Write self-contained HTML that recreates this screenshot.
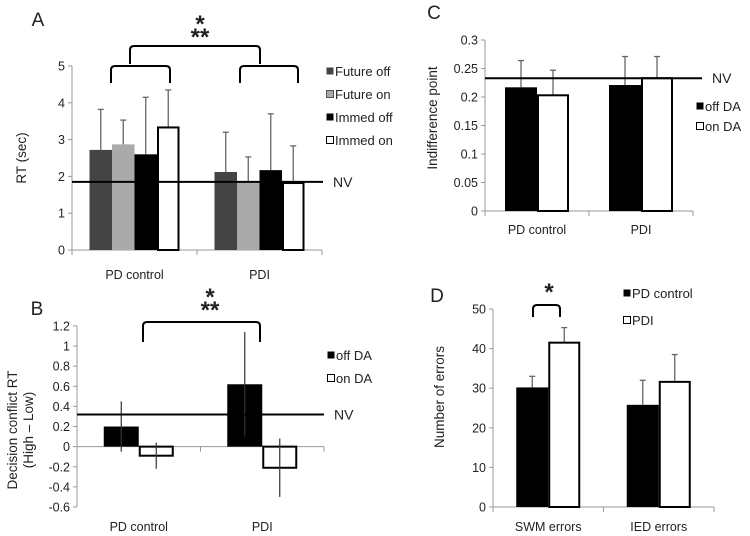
<!DOCTYPE html>
<html><head><meta charset="utf-8"><style>
body{margin:0;background:#fff}
svg{display:block;font-family:"Liberation Sans",Arial,sans-serif;}
text{fill:#222;font-size:12.5px}
</style></head><body>
<svg id="fig" width="750" height="536" viewBox="0 0 750 536"></svg>
<script>
// Panel A data
const aCategories=["PD control","PDI"];
const aSeries=["Future off","Future on","Immed off","Immed on"];
const aValues=[[2.72,2.12],[2.87,1.85],[2.6,2.17],[3.33,1.82]];
const aErrTop=[[3.82,3.2],[3.53,2.53],[4.15,3.7],[4.35,2.83]];
const aTicks=[0,1,2,3,4,5];
const aNV=1.85;
// Panel B data
const bCategories=["PD control","PDI"];
const bSeries=["off DA","on DA"];
const bValues=[[0.2,0.62],[-0.09,-0.21]];
const bErr=[[0.25,0.52],[0.13,0.29]];
const bTicks=[1.2,1,0.8,0.6,0.4,0.2,0,-0.2,-0.4,-0.6];
const bTickLabels=["1.2","1","0.8","0.6","0.4","0.2","0","-0.2","-0.4","-0.6"];
const bNV=0.32;
// Panel C data
const cCategories=["PD control","PDI"];
const cSeries=["off DA","on DA"];
const cValues=[[0.217,0.221],[0.203,0.233]];
const cErrTop=[[0.264,0.271],[0.247,0.271]];
const cTicks=[0,0.05,0.1,0.15,0.2,0.25,0.3];
const cNV=0.233;
// Panel D data
const dCategories=["SWM errors","IED errors"];
const dSeries=["PD control","PDI"];
const dValues=[[30.2,25.8],[41.5,31.6]];
const dErrTop=[[33,32],[45.3,38.5]];
const dTicks=[0,10,20,30,40,50];

const svg=document.getElementById('fig');
const NS='http://www.w3.org/2000/svg';
function el(tag,attrs,parent,txt){const e=document.createElementNS(NS,tag);for(const k in attrs)e.setAttribute(k,attrs[k]);if(txt!==undefined)e.textContent=txt;(parent||svg).appendChild(e);return e;}

function panel(cfg){
  const g=el('g',{});
  
  
  const y=v=>cfg.y0-(v-cfg.vmin)*cfg.ppu;
  const zeroY=y(Math.max(0,cfg.vmin));
  const ax=el('line',{x1:cfg.x0,y1:y(cfg.vmax),x2:cfg.x0,y2:y(cfg.vmin),stroke:'#999','stroke-width':1},g);
  
  
  cfg.ticks.forEach((t,i)=>{
    el('line',{x1:cfg.x0-4,y1:y(t),x2:cfg.x0,y2:y(t),stroke:'#999'},g);
    const tl=el('text',{x:cfg.x0-7,y:y(t)+4.5,'text-anchor':'end'},g,cfg.tickLabels?cfg.tickLabels[i]:String(t));
    
    
  });
  const xa=el('line',{x1:cfg.x0,y1:zeroY,x2:cfg.x1,y2:zeroY,stroke:'#999'},g);
  
  
  const nC=cfg.cats.length, cw=(cfg.x1-cfg.x0)/nC, nS=cfg.series.length;
  for(let c=0;c<=nC;c++){el('line',{x1:cfg.x0+c*cw,y1:zeroY,x2:cfg.x0+c*cw,y2:zeroY+5,stroke:'#999'},g);}
  const bw=cfg.bw;
  cfg.cats.forEach((cat,c)=>{
    const cx=cfg.x0+(c+0.5)*cw;
    const cl=el('text',{x:cx,y:cfg.catY,'text-anchor':'middle'},g,cat);
    
    
    const gs=cx-bw*nS/2;
    for(let s=0;s<nS;s++){
      const v=cfg.values[s][c];
      const bx=gs+s*bw, top=y(Math.max(v,0)), bot=y(Math.min(v,0));
      const fill=cfg.fills[s], white=fill==='#fff';
      const ex=bx+bw/2;
      if(cfg.errTop){
        const et=y(cfg.errTop[s][c]);
        el('line',{x1:ex,y1:top,x2:ex,y2:et,stroke:cfg.errCol[s],'stroke-width':1.3},g);
        el('line',{x1:ex-3,y1:et,x2:ex+3,y2:et,stroke:cfg.errCol[s],'stroke-width':1.3},g);
      }
      const r=el('rect',{x:bx+(white?1:0),y:top,width:bw-(white?2:0),height:Math.max(bot-top,0.5),fill:fill,stroke:white?'#000':'none','stroke-width':white?2:0},g);
      
      
      if(cfg.err){
        const e=cfg.err[s][c];
        el('line',{x1:ex,y1:y(v+e),x2:ex,y2:y(v-e),stroke:'#333','stroke-width':1.2},g);
      }
    }
  });
  if(cfg.nv!==undefined){
    const nl=el('line',{x1:cfg.x0,y1:y(cfg.nv),x2:cfg.nvX,y2:y(cfg.nv),stroke:'#000','stroke-width':2},g);
    
    
    const nt=el('text',{x:cfg.nvX+10,y:y(cfg.nv)+5,style:'font-size:14px'},g,'NV');
    
    
  }
  cfg.series.forEach((s,i)=>{
    const ly=cfg.legY+i*cfg.legDy;
    const fill=cfg.fills[i];
    el('rect',{x:cfg.legX+0.5,y:ly-8.5,width:7,height:7,fill:fill,stroke:fill==='#fff'?'#000':(fill==='#aaa'?'#555':'none'),'stroke-width':1},g);
    const lt=el('text',{x:cfg.legX+9,y:ly,style:'font-size:13px'},g,s);
    
    
  });
  const pl=el('text',{x:cfg.labX,y:cfg.labY,style:'font-size:19px','text-anchor':'middle'},g,cfg.label);
  
  
  cfg.ytitle.forEach((t,i)=>{
    const tx=cfg.ytX+i*16;
    const yt=el('text',{x:tx,y:cfg.ytY,transform:`rotate(-90 ${tx} ${cfg.ytY})`,'text-anchor':'middle',style:'font-size:13.5px'},g,t);
    
    
  });
  return g;
}
function bracket(x1,x2,yTop,yLeg,name){
  const p=el('path',{d:`M${x1},${yLeg} L${x1},${yTop+4} Q${x1},${yTop} ${x1+4},${yTop} L${x2-4},${yTop} Q${x2},${yTop} ${x2},${yTop+4} L${x2},${yLeg}`,fill:'none',stroke:'#000','stroke-width':2});
  
  
}
function star(x,yy,t,name){
  const s=el('text',{x:x,y:yy,'text-anchor':'middle',style:'font-size:24px;font-weight:bold'},svg,t);
  
  
}

panel({name:'panel-a',x0:72,x1:322,y0:250,vmin:0,vmax:5,ppu:36.8,ticks:aTicks,cats:aCategories,series:aSeries,values:aValues,errTop:aErrTop,
  bw:22.5,fills:['#444','#aaa','#000','#fff'],errCol:['#666','#666','#666','#666'],catY:279,nv:aNV,nvX:323,
  legX:326,legY:76,legDy:23,label:'A',labX:38,labY:26,ytitle:['RT (sec)'],ytX:26,ytY:158});
bracket(111,170,66,83,'bracket-pd-control');
bracket(240,298,66,83,'bracket-pdi');
bracket(130,260,46,64,'bracket-group-comparison');
star(200,32,'*','significance-star-a');
star(200,45,'**','significance-stars-a');

panel({name:'panel-b',x0:77,x1:324,y0:507,vmin:-0.6,vmax:1.2,ppu:100.6,ticks:bTicks,tickLabels:bTickLabels,cats:bCategories,series:bSeries,values:bValues,err:bErr,
  bw:35,fills:['#000','#fff'],catY:531,nv:bNV,nvX:324,
  legX:327,legY:360,legDy:23,label:'B',labX:37,labY:315,ytitle:['Decision conflict RT','(High – Low)'],ytX:17,ytY:430});
bracket(143,260,322,342,'bracket-b');
star(210,305,'*','significance-star-b');
star(210,318,'**','significance-stars-b');

panel({name:'panel-c',x0:485,x1:693,y0:211,vmin:0,vmax:0.3,ppu:570,ticks:cTicks,cats:cCategories,series:cSeries,values:cValues,errTop:cErrTop,
  bw:32,fills:['#000','#fff'],errCol:['#666','#666'],catY:234,nv:cNV,nvX:702,
  legX:696,legY:111,legDy:20,label:'C',labX:434,labY:19,ytitle:['Indifference point'],ytX:437,ytY:118});

panel({name:'panel-d',x0:493,x1:714,y0:507,vmin:0,vmax:50,ppu:3.96,ticks:dTicks,cats:dCategories,series:dSeries,values:dValues,errTop:dErrTop,
  bw:32,fills:['#000','#fff'],errCol:['#666','#666'],catY:531,
  legX:623,legY:298,legDy:27,label:'D',labX:437,labY:302,ytitle:['Number of  errors'],ytX:444,ytY:397});
bracket(533,560,305,317,'bracket-d');
star(549,300,'*','significance-star-d');
</script>
</body></html>
